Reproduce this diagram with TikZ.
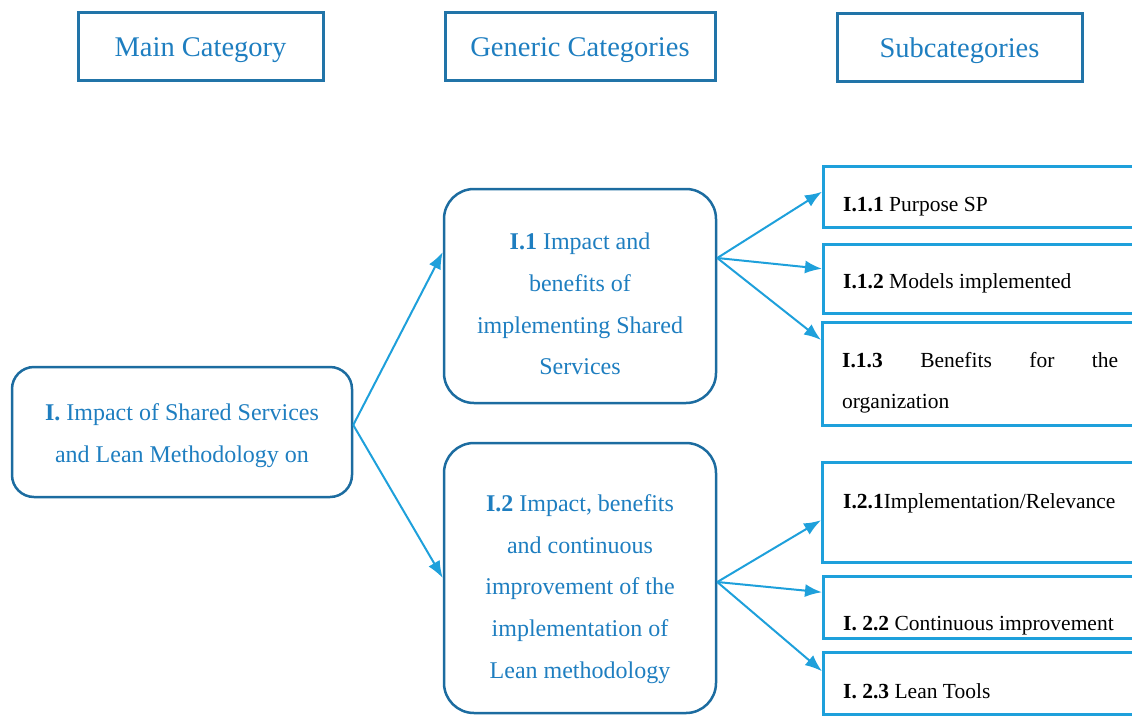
\documentclass[tikz,border=0pt]{standalone}
\usepackage{fontspec}
\setmainfont{Liberation Serif}
\usetikzlibrary{arrows.meta}
\definecolor{headline}{RGB}{33,116,168}
\definecolor{headtext}{RGB}{30,126,192}
\definecolor{boxline}{RGB}{28,108,160}
\definecolor{linkblue}{RGB}{30,160,219}
\tikzset{
  header/.style={draw=headline, line width=3pt, minimum width=245pt, minimum height=68pt,
    text height=20pt, text depth=0pt, text=headtext, font=\fontsize{28.5}{34}\selectfont},
  catbox/.style={draw=boxline, line width=2.5pt, rounded corners=30pt},
  cattext/.style={text=headtext, align=center, font=\fontsize{24}{41.8}\selectfont},
  subbox/.style={draw=linkblue, line width=2.5pt, anchor=north west, minimum width=330pt},
  subtext/.style={anchor=base west, inner sep=0pt, align=left, font=\fontsize{21.5}{41}\selectfont},
  link/.style={draw=linkblue, line width=2pt, -{Latex[length=17pt,width=13pt]}}
}
\begin{document}
\begin{tikzpicture}[x=1pt,y=-1pt]
  \useasboundingbox (0,0) rectangle (1132,715);
  \clip (0,0) rectangle (1132,715);
  % column headers
  \node[header] (hmain) at (200.5,46) {Main Category};
  \node[header, minimum width=270pt] (hgen) at (580,46) {Generic Categories};
  \node[header] (hsub) at (959.5,47.5) {Subcategories};
  % main and generic categories
  \node[catbox, minimum width=340pt, minimum height=130pt, rounded corners=22pt] (main) at (182,432) {};
  \node[catbox, minimum width=272pt, minimum height=214pt] (gen1) at (580,296) {};
  \node[catbox, minimum width=272pt, minimum height=270pt] (gen2) at (580,578) {};
  \node[cattext] (maintext) at (182,436) {\textbf{I.} Impact of Shared Services\\and Lean Methodology on};
  \node[cattext] (gen1text) at (580,304) {\textbf{I.1} Impact and\\benefits of\\implementing Shared\\Services};
  \node[cattext] (gen2text) at (580,589)
    {\textbf{I.2} Impact, benefits\\and continuous\\improvement of the\\implementation of\\Lean methodology};
  % subcategories
  \node[subbox, minimum height=61pt] (sub11) at (822,165) {};
  \node[subbox, minimum height=69pt] (sub12) at (822,243) {};
  \node[subbox, minimum height=103pt] (sub13) at (821,321) {};
  \node[subbox, minimum height=100pt] (sub21) at (821,461) {};
  \node[subbox, minimum height=62pt] (sub22) at (822,575) {};
  \node[subbox, minimum height=62pt] (sub23) at (822,651) {};
  \node[subtext] (t11) at (843,211) {\textbf{I.1.1} Purpose SP};
  \node[subtext] (t12) at (843,288) {\textbf{I.1.2} Models implemented};
  \node[subtext] (t13) at (842,408) {\makebox[276pt][s]{\textbf{I.1.3} Benefits for the}\\organization};
  \node[subtext] (t21) at (843,508) {\textbf{I.2.1}Implementation/Relevance};
  \node[subtext] (t22) at (843,630) {\textbf{I. 2.2} Continuous improvement};
  \node[subtext] (t23) at (843,698) {\textbf{I. 2.3} Lean Tools};
  % links
  \begin{scope}[link]
    \draw ([yshift=7pt]main.east) -- ([yshift=44pt]gen1.west);
    \draw ([yshift=7pt]main.east) -- (gen2.west);
    \draw ([yshift=38pt]gen1.east) -- ([yshift=5pt]sub11.west);
    \draw ([yshift=38pt]gen1.east) -- ([yshift=10pt]sub12.west);
    \draw ([yshift=38pt]gen1.east) -- ([yshift=-19pt]sub13.north west);
    \draw ([yshift=-4pt]gen2.east) -- ([yshift=-8pt]sub21.west);
    \draw ([yshift=-4pt]gen2.east) -- ([yshift=15pt]sub22.west);
    \draw ([yshift=-4pt]gen2.east) -- ([yshift=12pt]sub23.west);
  \end{scope}
\end{tikzpicture}
\end{document}
